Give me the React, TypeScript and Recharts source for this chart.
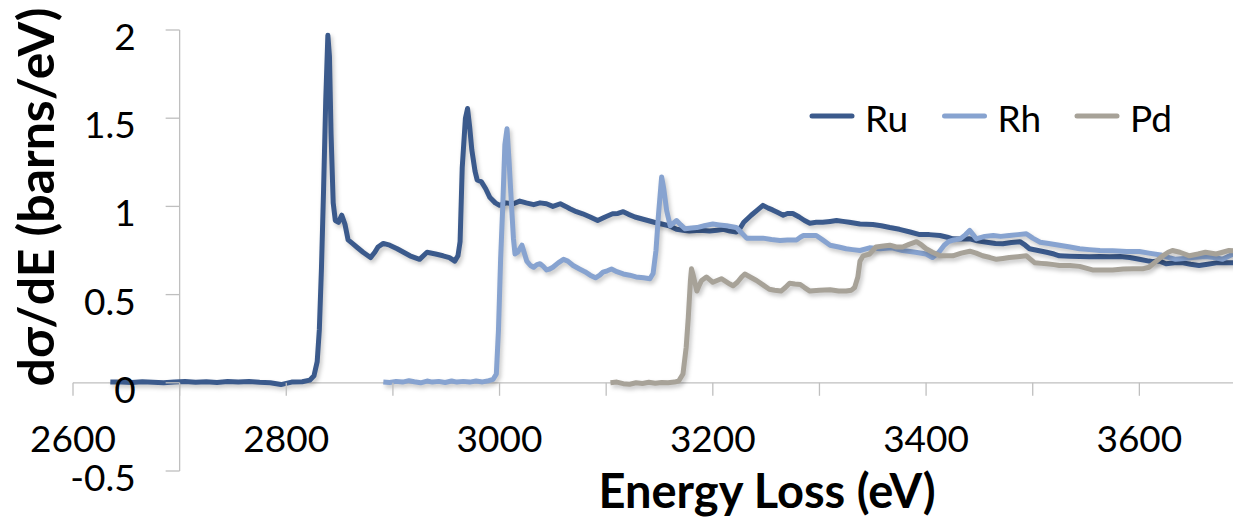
import React from 'react'
import { LineChart, Line, XAxis, YAxis, ReferenceLine } from 'recharts'

// energy (eV), dσ/dE (barns/eV)
const ruPoints: [number, number][] = [
  [2635, 0.005], [2645, 0.004], [2655, 0.002], [2665, 0.006], [2675, 0.003], [2685, 0.0],
  [2695, 0.005], [2705, 0.008], [2715, 0.003], [2725, 0.006], [2735, 0.002], [2745, 0.007],
  [2755, 0.004], [2765, 0.008], [2775, 0.003], [2785, 0.0], [2795, -0.01], [2805, 0.004],
  [2815, 0.006], [2822, 0.015], [2826, 0.04], [2829, 0.12], [2831, 0.3], [2833, 0.65],
  [2835, 1.1], [2837, 1.6], [2839, 1.97], [2840.5, 1.85], [2842, 1.41], [2844, 1.02],
  [2846, 0.92], [2849, 0.91], [2852, 0.95], [2855, 0.9], [2858, 0.81], [2862, 0.79],
  [2866, 0.77], [2872, 0.74], [2879, 0.71], [2883, 0.74], [2886, 0.77], [2891, 0.79],
  [2897, 0.78], [2904, 0.76], [2910, 0.74], [2916, 0.72], [2925, 0.7], [2932, 0.74],
  [2940, 0.73], [2947, 0.72], [2953, 0.71], [2958, 0.69], [2961, 0.72], [2963, 0.8],
  [2965, 1.22], [2968, 1.5], [2970, 1.555], [2972, 1.45], [2974, 1.32], [2977, 1.2],
  [2979, 1.15], [2983, 1.14], [2987, 1.1], [2991, 1.05], [2996, 1.02], [3000, 1.006],
  [3006, 1.02], [3013, 1.015], [3019, 1.03], [3025, 1.02], [3032, 1.01], [3038, 1.02],
  [3044, 1.015], [3050, 1.0], [3057, 1.015], [3062, 1.0], [3066, 0.987], [3072, 0.97],
  [3078, 0.958], [3085, 0.94], [3092, 0.92], [3099, 0.94], [3106, 0.958], [3111, 0.96],
  [3116, 0.97], [3121, 0.955], [3127, 0.94], [3133, 0.93], [3139, 0.92], [3145, 0.91],
  [3152, 0.9], [3159, 0.89], [3166, 0.87], [3172, 0.865], [3178, 0.86], [3188, 0.865],
  [3197, 0.86], [3204, 0.865], [3210, 0.87], [3216, 0.86], [3222, 0.855], [3226, 0.88],
  [3229, 0.91], [3236, 0.95], [3242, 0.98], [3247, 1.006], [3252, 0.99], [3256, 0.98],
  [3261, 0.965], [3266, 0.95], [3270, 0.96], [3275, 0.96], [3281, 0.94], [3286, 0.92],
  [3291, 0.905], [3297, 0.91], [3303, 0.91], [3310, 0.915], [3316, 0.92], [3322, 0.915],
  [3328, 0.91], [3338, 0.9], [3350, 0.897], [3358, 0.89], [3366, 0.88], [3375, 0.87],
  [3385, 0.855], [3394, 0.84], [3403, 0.84], [3413, 0.835], [3420, 0.825], [3425, 0.816],
  [3433, 0.815], [3441, 0.816], [3448, 0.805], [3457, 0.797], [3465, 0.79], [3472, 0.788],
  [3480, 0.795], [3488, 0.8], [3493, 0.78], [3497, 0.76], [3505, 0.75], [3513, 0.74],
  [3520, 0.73], [3525, 0.72], [3535, 0.718], [3544, 0.716], [3553, 0.715], [3563, 0.716],
  [3572, 0.714], [3582, 0.716], [3591, 0.71], [3600, 0.7], [3609, 0.69], [3613, 0.687],
  [3619, 0.69], [3625, 0.675], [3633, 0.68], [3641, 0.68], [3648, 0.672], [3656, 0.665],
  [3664, 0.672], [3672, 0.68], [3680, 0.68], [3690, 0.68], [3700, 0.683],
]

const rhPoints: [number, number][] = [
  [2891, 0.005], [2897, 0.002], [2903, 0.008], [2909, 0.004], [2915, 0.012], [2920, 0.006],
  [2926, 0.0], [2932, 0.01], [2937, 0.004], [2943, 0.008], [2949, 0.002], [2955, 0.01],
  [2960, 0.004], [2966, 0.008], [2972, 0.004], [2978, 0.01], [2984, 0.005], [2990, 0.012],
  [2994, 0.02], [2997, 0.05], [2999, 0.3], [3001, 0.7], [3003, 1.0], [3005, 1.35],
  [3007, 1.44], [3009, 1.25], [3011, 1.03], [3013, 0.82], [3014.5, 0.73], [3017, 0.74],
  [3021, 0.78], [3023, 0.74], [3025.5, 0.69], [3029, 0.665], [3032, 0.655], [3035, 0.67],
  [3038, 0.675], [3041, 0.66], [3044, 0.64], [3047, 0.645], [3050, 0.655], [3055, 0.68],
  [3060, 0.7], [3064, 0.69], [3069, 0.665], [3075, 0.645], [3080, 0.63], [3085, 0.61],
  [3090, 0.595], [3094, 0.61], [3097, 0.627], [3101, 0.635], [3105, 0.645], [3110, 0.63],
  [3116, 0.617], [3122, 0.61], [3128, 0.6], [3135, 0.595], [3141, 0.59], [3144, 0.62],
  [3146.7, 0.75], [3149, 0.95], [3152, 1.167], [3154, 1.1], [3156.7, 0.977], [3160, 0.89],
  [3163, 0.905], [3166, 0.92], [3170, 0.895], [3174, 0.873], [3180, 0.878], [3185, 0.88],
  [3192, 0.89], [3200, 0.9], [3206, 0.895], [3213, 0.89], [3218, 0.885], [3222, 0.88],
  [3227, 0.85], [3231.7, 0.82], [3240, 0.82], [3247, 0.82], [3255, 0.812], [3263, 0.807],
  [3270, 0.81], [3278.5, 0.81], [3282, 0.825], [3285, 0.835], [3291, 0.835], [3297, 0.835],
  [3303, 0.81], [3310, 0.78], [3318, 0.77], [3325, 0.76], [3331, 0.755], [3338, 0.75],
  [3347, 0.765], [3357, 0.76], [3368, 0.765], [3378, 0.75], [3390, 0.74], [3400, 0.73],
  [3406, 0.71], [3412, 0.74], [3417, 0.78], [3421, 0.8], [3426, 0.81], [3432, 0.816],
  [3437, 0.84], [3441, 0.864], [3444, 0.84], [3447, 0.816], [3455, 0.83], [3463, 0.835],
  [3470, 0.83], [3478, 0.835], [3486, 0.84], [3494, 0.845], [3500, 0.82], [3507, 0.797],
  [3515, 0.79], [3525, 0.78], [3535, 0.77], [3544, 0.76], [3553, 0.755], [3563, 0.75],
  [3575, 0.748], [3588, 0.744], [3600, 0.744], [3609, 0.735], [3620, 0.725], [3628, 0.71],
  [3634, 0.7], [3642, 0.705], [3650, 0.71], [3662, 0.716], [3670, 0.71], [3678, 0.7],
  [3688, 0.73], [3700, 0.735],
]

const pdPoints: [number, number][] = [
  [3104, 0.0], [3110, 0.004], [3116, -0.005], [3122, -0.008], [3128, 0.0], [3134, -0.004],
  [3140, 0.003], [3146, -0.002], [3152, 0.002], [3158, 0.0], [3164, 0.004], [3168, 0.01],
  [3172, 0.05], [3175, 0.2], [3177, 0.37], [3179, 0.58], [3180, 0.646], [3182, 0.6],
  [3185, 0.52], [3187, 0.55], [3189.5, 0.58], [3194, 0.6], [3197, 0.585], [3200, 0.57],
  [3204, 0.58], [3208, 0.59], [3212, 0.575], [3216, 0.56], [3219, 0.55], [3223, 0.57],
  [3227, 0.6], [3230, 0.617], [3235, 0.6], [3241, 0.58], [3247, 0.555], [3253, 0.53],
  [3258, 0.525], [3264, 0.52], [3268, 0.54], [3272, 0.564], [3277, 0.56], [3282, 0.557],
  [3286, 0.54], [3291, 0.52], [3300, 0.525], [3310, 0.527], [3318, 0.52], [3325, 0.52],
  [3330, 0.525], [3333, 0.54], [3336, 0.6], [3338, 0.69], [3341, 0.72], [3347, 0.73],
  [3353, 0.77], [3360, 0.775], [3366, 0.78], [3372, 0.77], [3378, 0.77], [3384, 0.785],
  [3391, 0.8], [3396, 0.78], [3400, 0.76], [3406, 0.74], [3413, 0.72], [3419, 0.72],
  [3425, 0.72], [3433, 0.735], [3441, 0.746], [3447, 0.735], [3453, 0.72], [3460, 0.71],
  [3466, 0.7], [3472, 0.705], [3478, 0.71], [3486, 0.715], [3494, 0.72], [3498, 0.7],
  [3502, 0.68], [3508, 0.677], [3513, 0.675], [3520, 0.67], [3525, 0.665], [3535, 0.665],
  [3544, 0.66], [3550, 0.65], [3556, 0.64], [3565, 0.64], [3575, 0.64], [3585, 0.645],
  [3594, 0.646], [3603, 0.646], [3609, 0.655], [3616, 0.69], [3622, 0.72], [3627, 0.74],
  [3631, 0.75], [3638, 0.74], [3647, 0.72], [3655, 0.73], [3662, 0.74], [3672, 0.73],
  [3684, 0.75], [3700, 0.745],
]

const xTicks = [2600, 2700, 2800, 2900, 3000, 3100, 3200, 3300, 3400, 3500, 3600, 3700]
const yTicks = [-0.5, 0, 0.5, 1, 1.5, 2]

const series = [
  { name: 'Ru', color: '#3b5a8c', points: ruPoints },
  { name: 'Rh', color: '#87a3d0', points: rhPoints },
  { name: 'Pd', color: '#a7a298', points: pdPoints },
]

const X_MIN = 2600
const X_MAX = 3700
const X_CROSS = 2700
const Y_MIN = -0.5
const Y_MAX = 2

const W = 1250
const H = 527
const PLOT = { top: 30, right: 4, bottom: 56, left: 73 }
const PLOT_W = W - PLOT.left - PLOT.right
const PLOT_H = H - PLOT.top - PLOT.bottom
const ZERO_Y = PLOT.top + (PLOT_H * (Y_MAX - 0)) / (Y_MAX - Y_MIN)
const AXIS_X = PLOT.left + (PLOT_W * (X_CROSS - X_MIN)) / (X_MAX - X_MIN)

const AXIS = '#bfbfbf'
const FONT = 'Lato, "Open Sans", sans-serif'

const toRows = (pts: [number, number][]) => pts.map(([e, v]) => ({ e, v }))

// x ticks hang below the zero line, labels only every 200 eV
const renderXTick = (props: any) => {
  const { x, payload } = props
  const v = payload.value
  return (
    <g key={`xt-${v}`}>
      <line x1={x} x2={x} y1={ZERO_Y} y2={ZERO_Y + 13} stroke={AXIS} strokeWidth={1.3} />
      {v % 200 === 0 && (
        <text x={x} y={ZERO_Y + 69} textAnchor="middle" fontSize={37} fontFamily={FONT} fill="#000">
          {v}
        </text>
      )}
    </g>
  )
}

// y ticks sit on the vertical axis at 2700 eV
const renderYTick = (props: any) => {
  const { y, payload } = props
  return (
    <g key={`yt-${payload.value}`}>
      <line x1={AXIS_X - 14} x2={AXIS_X} y1={y} y2={y} stroke={AXIS} strokeWidth={1.3} />
      <text x={AXIS_X - 44} y={y + 20} textAnchor="end" fontSize={37} fontFamily={FONT} fill="#000">
        {payload.value}
      </text>
    </g>
  )
}

export default function App() {
  return (
    <div style={{ position: 'fixed', left: 0, top: 0, width: 1233, height: 527, overflow: 'hidden', background: '#fff' }}>
      <style>{`.recharts-line-curve { filter: drop-shadow(2px 3px 2px rgba(0,0,0,0.22)); }`}</style>
      <LineChart width={W} height={H} margin={{ top: PLOT.top, right: PLOT.right, bottom: 0, left: 0 }}>
        <XAxis
          dataKey="e"
          type="number"
          domain={[X_MIN, X_MAX]}
          ticks={xTicks}
          interval={0}
          height={PLOT.bottom}
          axisLine={false}
          tickLine={false}
          tick={renderXTick}
          allowDataOverflow
        />
        <YAxis
          type="number"
          domain={[Y_MIN, Y_MAX]}
          ticks={yTicks}
          interval={0}
          width={PLOT.left}
          axisLine={false}
          tickLine={false}
          tick={renderYTick}
          allowDataOverflow
        />
        <ReferenceLine y={0} stroke={AXIS} strokeWidth={1.3} />
        <ReferenceLine x={X_CROSS} stroke={AXIS} strokeWidth={1.3} />
        {series.map((s) => (
          <Line
            key={s.name}
            data={toRows(s.points)}
            dataKey="v"
            name={s.name}
            type="linear"
            stroke={s.color}
            strokeWidth={5}
            strokeLinejoin="round"
            dot={false}
            activeDot={false}
            isAnimationActive={false}
          />
        ))}
      </LineChart>
      <svg width={1233} height={527} style={{ position: 'absolute', left: 0, top: 0, pointerEvents: 'none' }}>
        <text
          transform="translate(54, 197) rotate(-90)"
          textAnchor="middle"
          fontSize={50}
          fontWeight="bold"
          fontFamily={FONT}
          fill="#000"
        >
          dσ/dE (barns/eV)
        </text>
        <text x={767} y={508} textAnchor="middle" fontSize={47} fontWeight="bold" fontFamily={FONT} fill="#000">
          Energy Loss (eV)
        </text>
        {series.map((s, i) => (
          <g key={s.name}>
            <line
              x1={812 + i * 132.5}
              x2={852 + i * 132.5}
              y1={116}
              y2={116}
              stroke={s.color}
              strokeWidth={5}
              strokeLinecap="round"
            />
            <text x={865 + i * 132.5} y={132} fontSize={37} fontFamily={FONT} fill="#000">
              {s.name}
            </text>
          </g>
        ))}
      </svg>
    </div>
  )
}
